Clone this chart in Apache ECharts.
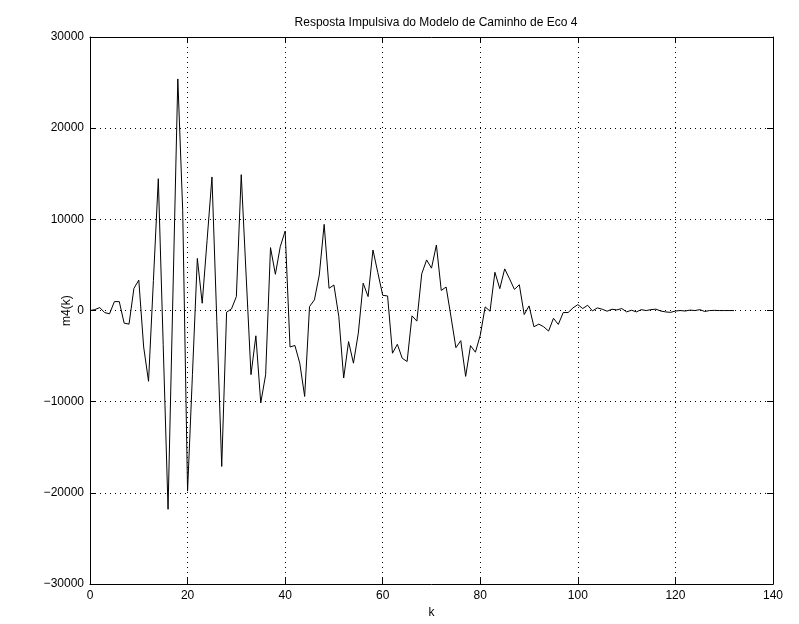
<!DOCTYPE html>
<html>
<head>
<meta charset="utf-8">
<script src="https://cdn.jsdelivr.net/npm/echarts@6/dist/echarts.min.js"></script>
<style>
html,body{margin:0;padding:0;background:#fff;}
#chart{width:799px;height:624px;}
</style>
</head>
<body>
<div id="chart"></div>
<script>
const titleText = 'Resposta Impulsiva do Modelo de Caminho de Eco 4';
const xLabel = 'k';
const yLabel = 'm4(k)';
const xTicks = [0, 20, 40, 60, 80, 100, 120, 140];
const yTicks = [-30000, -20000, -10000, 0, 10000, 20000, 30000];
const kStart = 0;
const m4 = [
  0, 100, 330, -220, -360, 980, 980, -1380, -1490, 2430,
  3340, -4000, -7760, 3300, 14460, -3700, -21800, 1800, 25400, 11000,
  -19800, -7000, 5720, 800, 7700, 14650, -1200, -17100, -180, 180,
  1530, 14900, 3900, -7030, -2770, -10130, -7040, 6900, 3980, 7000,
  8720, -4000, -3830, -5770, -9420, 440, 1170, 3900, 9450, 2440,
  2800, -660, -7400, -3400, -5770, -2480, 3000, 1530, 6640, 4150,
  1670, 1600, -4680, -3700, -5230, -5590, -580, -1160, 4030, 5550,
  4650, 7190, 2210, 2580, -700, -4070, -3300, -7220, -3850, -4570,
  -2700, 400, -70, 4200, 2400, 4570, 3480, 2320, 2830, -440,
  510, -1780, -1490, -1780, -2250, -850, -1520, -220, -220, 290,
  650, 220, 580, -40, 290, 145, -70, 145, 70, 220,
  -145, 36, -145, 100, 0, 100, 150, -50, -150, -200,
  -50, 0, -50, 50, 0, 100, -100, 0, 20, 0,
  0, 0, 0
];

const seriesData = m4.map((v, i) => [kStart + i, v]);
const FONT = '"Liberation Sans", Arial, Helvetica, sans-serif';
const fmtY = v => (v < 0 ? '\u2212' + Math.abs(v) : String(v));

const chart = echarts.init(document.getElementById('chart'), null, {renderer: 'canvas'});
const gridLine = {show: true, lineStyle: {color: '#000', type: [1, 4], width: 1}};
const boxLine = {show: true, onZero: false, lineStyle: {color: '#000', width: 1}};
const tick = {show: true, inside: true, length: 6, lineStyle: {color: '#000'}};
chart.setOption({
  animation: false,
  backgroundColor: '#fff',
  title: {
    text: titleText,
    left: 431, top: 12, textAlign: 'center',
    textStyle: {fontFamily: FONT, fontSize: 12, fontWeight: 'normal', color: '#000'}
  },
  grid: {left: 90, right: 26, top: 37, bottom: 36, containLabel: false},
  xAxis: [{
    type: 'value', min: xTicks[0], max: xTicks[xTicks.length - 1], interval: 20,
    position: 'bottom',
    name: xLabel, nameLocation: 'middle', nameGap: 22,
    nameTextStyle: {fontFamily: FONT, fontSize: 12, color: '#000'},
    axisLine: boxLine, axisTick: tick,
    axisLabel: {fontFamily: FONT, fontSize: 12, color: '#000', margin: 6},
    splitLine: gridLine
  }, {
    type: 'value', min: xTicks[0], max: xTicks[xTicks.length - 1], interval: 20,
    position: 'top',
    axisLine: boxLine, axisTick: tick,
    axisLabel: {show: false}, splitLine: {show: false}
  }],
  yAxis: [{
    type: 'value', min: yTicks[0], max: yTicks[yTicks.length - 1], interval: 10000,
    position: 'left',
    name: yLabel, nameLocation: 'middle', nameGap: 17, nameRotate: 90,
    nameMoveOverlap: false,
    nameTextStyle: {fontFamily: FONT, fontSize: 12, color: '#000'},
    axisLine: boxLine, axisTick: tick,
    axisLabel: {fontFamily: FONT, fontSize: 12, color: '#000', margin: 6, formatter: fmtY},
    splitLine: gridLine
  }, {
    type: 'value', min: yTicks[0], max: yTicks[yTicks.length - 1], interval: 10000,
    position: 'right',
    axisLine: boxLine, axisTick: tick,
    axisLabel: {show: false}, splitLine: {show: false}
  }],
  series: [{
    type: 'line', data: seriesData, xAxisIndex: 0, yAxisIndex: 0,
    showSymbol: false, symbol: 'none',
    lineStyle: {color: '#000', width: 1}
  }]
});
</script>
</body>
</html>
